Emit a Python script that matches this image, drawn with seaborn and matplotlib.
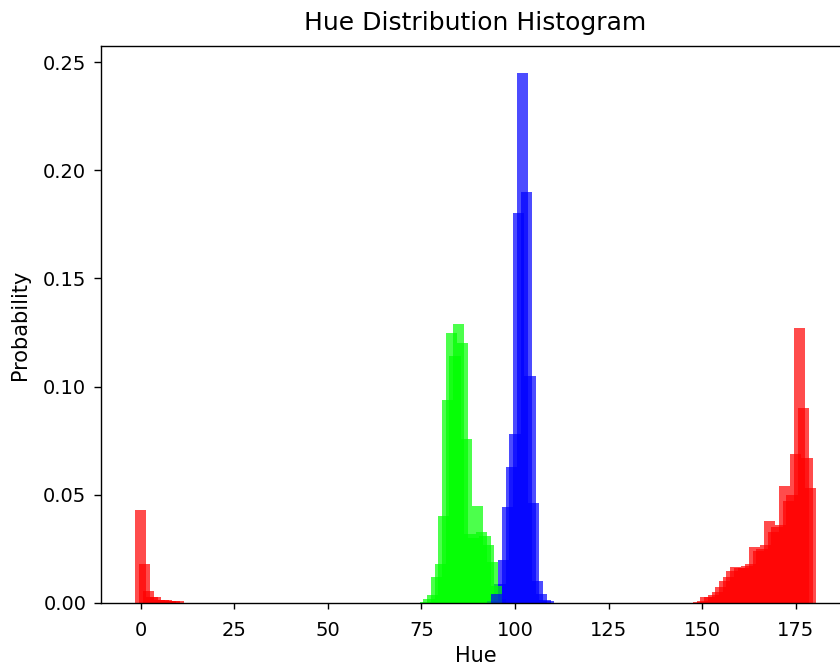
import numpy as np
import pandas as pd
import matplotlib
matplotlib.use("Agg")
import matplotlib.pyplot as plt
import seaborn as sns

# ---- data (hue bin centre -> probability) ----
red_low_hues = list(range(0, 11))
red_low_prob = [0.043, 0.018, 0.0055, 0.003, 0.0027, 0.0015, 0.0013, 0.0012,
                0.0010, 0.0009, 0.0007]

green_hues = list(range(76, 97))
green_prob = [0.0006, 0.002, 0.0037, 0.012, 0.018, 0.040, 0.094, 0.125,
              0.114, 0.129, 0.120, 0.076, 0.032, 0.030, 0.045, 0.033,
              0.031, 0.027, 0.019, 0.008, 0.002]

blue_hues = list(range(94, 110))
blue_prob = [0.001, 0.004, 0.009, 0.020, 0.0445, 0.063, 0.078, 0.180,
             0.245, 0.190, 0.105, 0.046, 0.010, 0.004, 0.0015, 0.0007]

red_high_hues = list(range(149, 180))
red_high_prob = [0.0005, 0.001, 0.0026, 0.003, 0.0037, 0.005, 0.0075, 0.010,
                 0.012, 0.015, 0.0165, 0.016, 0.016, 0.017, 0.018, 0.026,
                 0.024, 0.025, 0.027, 0.038, 0.033, 0.035, 0.036, 0.054,
                 0.047, 0.050, 0.069, 0.127, 0.090, 0.067, 0.053]

df = pd.concat([
    pd.DataFrame({"Hue": red_low_hues, "Probability": red_low_prob, "Color": "red"}),
    pd.DataFrame({"Hue": green_hues, "Probability": green_prob, "Color": "green"}),
    pd.DataFrame({"Hue": blue_hues, "Probability": blue_prob, "Color": "blue"}),
    pd.DataFrame({"Hue": red_high_hues, "Probability": red_high_prob, "Color": "red"}),
], ignore_index=True)

palette = {"red": "#ff0000", "green": "#00ff00", "blue": "#0000ff"}
bar_width = 3

fig = plt.figure(figsize=(8.4, 6.67), dpi=100)
ax = fig.add_axes([101 / 840, 64 / 667, 749 / 840, 557 / 667])

# bars are 3 hue units wide, one per hue value -> three interleaved histograms
for k in range(bar_width):
    bins = list(np.arange(k - bar_width / 2, 183, bar_width))
    for colname in ["red", "green", "blue"]:
        sub = df[(df["Hue"] % bar_width == k) & (df["Color"] == colname)]
        sns.histplot(x=sub["Hue"].to_numpy(), weights=sub["Probability"].to_numpy(),
                     bins=bins, stat="count", color=palette[colname], alpha=0.7,
                     linewidth=0, edgecolor="none", ax=ax)

ax.set_xlim(-10.6, 189.5)
ax.set_ylim(0, 0.2574)
ax.set_xticks([0, 25, 50, 75, 100, 125, 150, 175])
ax.set_yticks([0.0, 0.05, 0.10, 0.15, 0.20, 0.25])
ax.set_yticklabels(["0.00", "0.05", "0.10", "0.15", "0.20", "0.25"])
ax.tick_params(axis="y", labelsize=14, length=4.8, width=1.0, pad=5.8)
ax.tick_params(axis="x", labelsize=14, length=4.3, width=1.0, pad=9.0)
for s in ax.spines.values():
    s.set_linewidth(1.0)
ax.set_xlabel("Hue", fontsize=15, labelpad=4)
ax.set_ylabel("Probability", fontsize=15, labelpad=9)
ax.set_title("Hue Distribution Histogram", fontsize=18, pad=11.5)

fig.savefig("out.png", dpi=100)
